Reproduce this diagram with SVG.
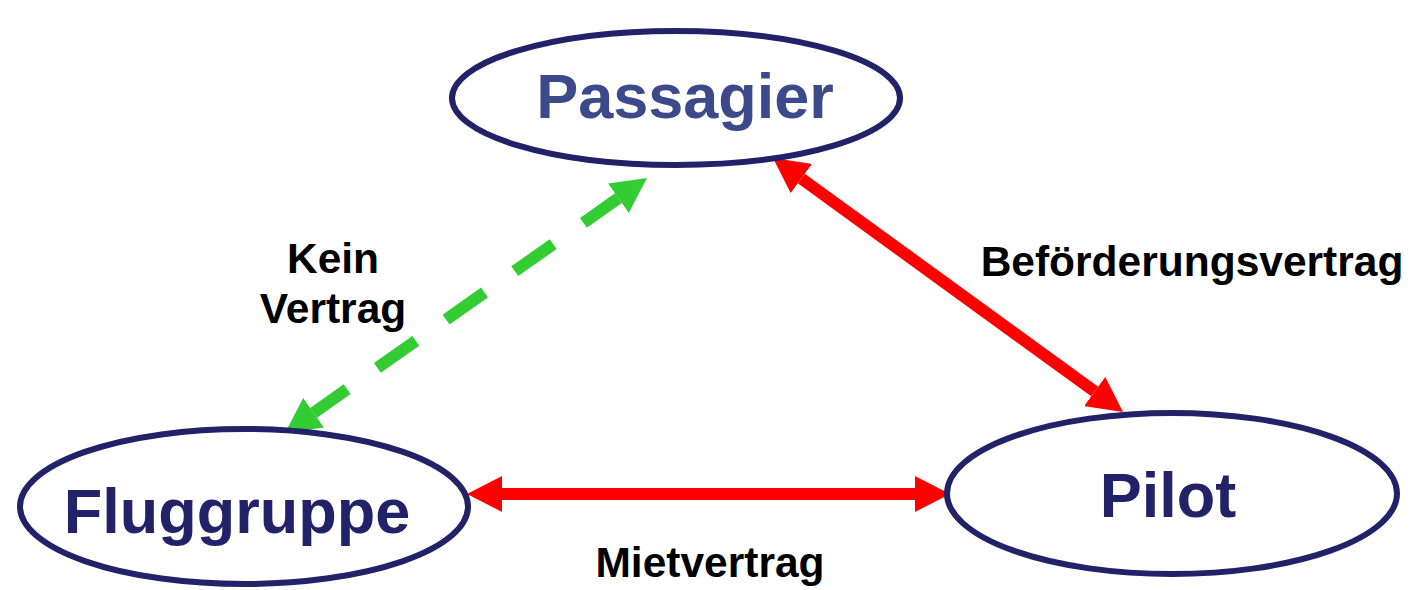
<svg xmlns="http://www.w3.org/2000/svg" width="1414" height="590" viewBox="0 0 1414 590">
<style>
.node{fill:#ffffff;stroke:#222268;stroke-width:6}
.ntext{font-family:"Liberation Sans",Arial,sans-serif;font-weight:bold;font-size:63px;fill:#222268;text-anchor:middle}
.ltext{font-family:"Liberation Sans",Arial,sans-serif;font-weight:bold;font-size:42.5px;fill:#000000;text-anchor:middle}
.red{stroke:#ff0000;stroke-width:12;fill:none}
.green{stroke:#33cc33;stroke-width:12;fill:none;stroke-dasharray:47 37;stroke-dashoffset:6}
</style>
<defs>
<marker id="ahRed" viewBox="0 0 35 36" markerWidth="35" markerHeight="36" refX="0" refY="18" markerUnits="userSpaceOnUse" orient="auto-start-reverse">
<path d="M0,0 L35,18 L0,36 Z" fill="#ff0000"/>
</marker>
<marker id="ahGreen" viewBox="0 0 35 36" markerWidth="35" markerHeight="36" refX="0" refY="18" markerUnits="userSpaceOnUse" orient="auto-start-reverse">
<path d="M0,0 L35,18 L0,36 Z" fill="#33cc33"/>
</marker>
</defs>
<rect width="1414" height="590" fill="#ffffff"/>
<g id="connectors">
<line class="red" x1="502" y1="494" x2="915" y2="494" marker-start="url(#ahRed)" marker-end="url(#ahRed)"/>
<line class="red" x1="801.3" y1="178.5" x2="1094.7" y2="391.5" marker-start="url(#ahRed)" marker-end="url(#ahRed)"/>
<line class="green" x1="313.6" y1="412.8" x2="618.4" y2="198.2" marker-start="url(#ahGreen)" marker-end="url(#ahGreen)"/>
</g>
<g id="node-passagier">
<ellipse class="node" cx="676" cy="98" rx="224" ry="67"/>
<text class="ntext" x="685" y="118" style="fill:#3c4a8c">Passagier</text>
</g>
<g id="node-fluggruppe">
<ellipse class="node" cx="244" cy="506.5" rx="224" ry="77.5"/>
<text class="ntext" x="237" y="533">Fluggruppe</text>
</g>
<g id="node-pilot">
<ellipse class="node" cx="1172" cy="493.5" rx="225" ry="80.5"/>
<text class="ntext" x="1168" y="517">Pilot</text>
</g>
<g id="labels">
<text class="ltext" x="333" y="273">Kein</text>
<text class="ltext" x="333" y="323">Vertrag</text>
<text class="ltext" x="1192" y="276">Beförderungsvertrag</text>
<text class="ltext" x="710" y="577">Mietvertrag</text>
</g>
</svg>
